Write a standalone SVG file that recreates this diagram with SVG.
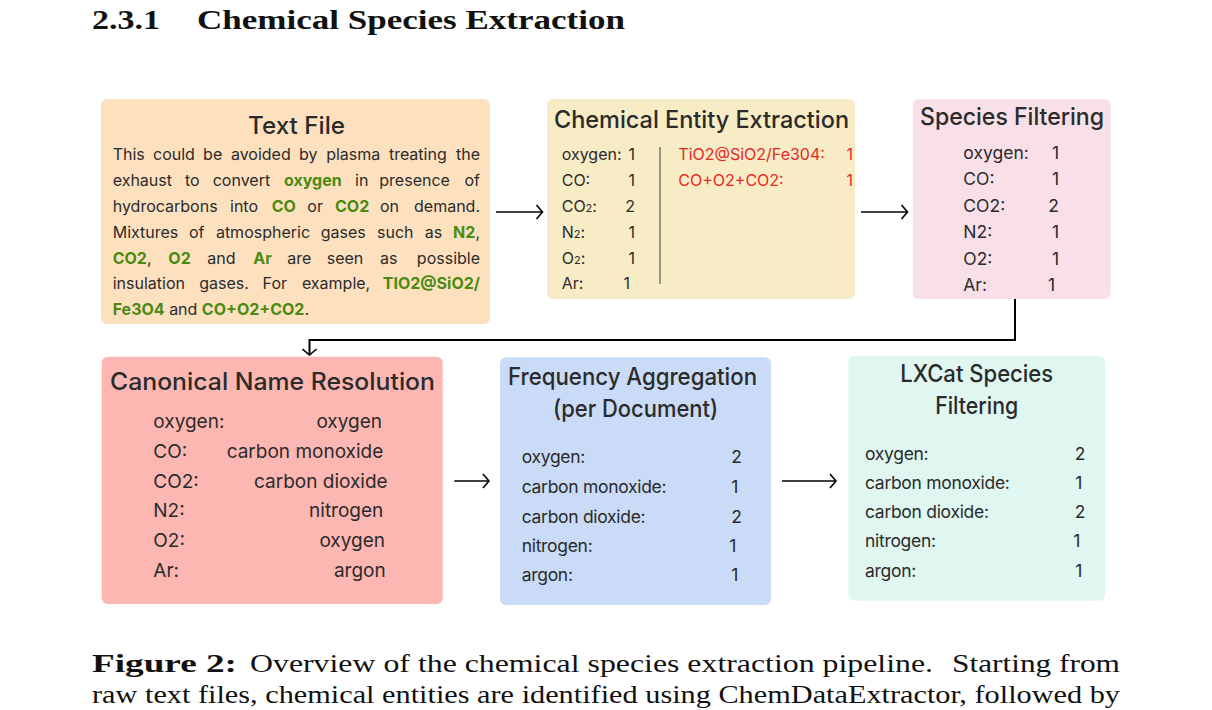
<svg xmlns="http://www.w3.org/2000/svg" width="1212" height="710" viewBox="0 0 1212 710">
<style>
.sans{font-family:Inter,"Liberation Sans",sans-serif;fill:#2b2b2b}
.ttl{font-size:24px;text-anchor:middle;font-weight:500}
.body{font-size:16px}
.g{fill:#4a8a12;font-weight:bold}
.r16{font-size:16px}
.r17{font-size:17.5px}
.r19{font-size:19px}
.red{fill:#e42a24}
.e{text-anchor:end}
.conn{stroke:#000;fill:none}
.serif{font-family:"Liberation Serif","Times New Roman",serif;fill:#111}
</style>
<defs>
<marker id="ah" viewBox="0 0 10 16" refX="9" refY="8" markerWidth="10" markerHeight="16" markerUnits="userSpaceOnUse" orient="auto">
<path d="M3,1 L9,8 L3,15" fill="none" stroke="#000" stroke-width="1.6"/>
</marker>
</defs>
<rect width="1212" height="710" fill="#fff"/>

<text class="serif" font-weight="bold" font-size="28" x="92" y="29" textLength="68" lengthAdjust="spacingAndGlyphs">2.3.1</text>
<text class="serif" font-weight="bold" font-size="28" x="197" y="29" textLength="428" lengthAdjust="spacingAndGlyphs">Chemical Species Extraction</text>

<g id="node-textfile">
<rect x="101" y="99" width="389" height="225" rx="6" fill="#fde1bf"/>
<text class="sans ttl" x="296.5" y="134" textLength="97" lengthAdjust="spacingAndGlyphs">Text File</text>
<text class="sans body" y="160"><tspan x="112.7">This</tspan><tspan x="153">could</tspan><tspan x="203.1">be</tspan><tspan x="230.9">avoided</tspan><tspan x="299">by</tspan><tspan x="326.2">plasma</tspan><tspan x="388.9">treating</tspan><tspan x="480" text-anchor="end">the</tspan></text>
<text class="sans body" y="186"><tspan x="112.7">exhaust</tspan><tspan x="185">to</tspan><tspan x="212.7">convert</tspan><tspan x="284" class="g">oxygen</tspan><tspan x="355">in</tspan><tspan x="379.3">presence</tspan><tspan x="480" text-anchor="end">of</tspan></text>
<text class="sans body" y="212"><tspan x="112.7">hydrocarbons</tspan><tspan x="230">into</tspan><tspan x="271.7" class="g">CO</tspan><tspan x="307.3">or</tspan><tspan x="335" class="g">CO2</tspan><tspan x="380">on</tspan><tspan x="480" text-anchor="end">demand.</tspan></text>
<text class="sans body" y="238"><tspan x="112.7">Mixtures</tspan><tspan x="188.9">of</tspan><tspan x="215.9">atmospheric</tspan><tspan x="320.7">gases</tspan><tspan x="377">such</tspan><tspan x="424.7">as</tspan><tspan x="480" text-anchor="end" class="g">N2</tspan><tspan>,</tspan></text>
<text class="sans body" y="263.5"><tspan x="112.7" class="g">CO2</tspan><tspan>,</tspan><tspan x="168.3" class="g">O2</tspan><tspan x="207.3">and</tspan><tspan x="253.3" class="g">Ar</tspan><tspan x="287.3">are</tspan><tspan x="326.7">seen</tspan><tspan x="380">as</tspan><tspan x="480" text-anchor="end">possible</tspan></text>
<text class="sans body" y="289"><tspan x="112.7">insulation</tspan><tspan x="199.2">gases.</tspan><tspan x="262.6">For</tspan><tspan x="301.9">example,</tspan><tspan x="480" text-anchor="end" class="g">TIO2@SiO2/</tspan></text>
<text class="sans body" x="112.7" y="314.5"><tspan class="g">Fe3O4</tspan> and <tspan class="g">CO+O2+CO2</tspan>.</text>
</g>

<g id="node-extraction">
<rect x="547" y="99" width="308" height="200" rx="6" fill="#f7ecc5"/>
<text class="sans ttl" x="701.5" y="128" textLength="295" lengthAdjust="spacingAndGlyphs">Chemical Entity Extraction</text>
<g class="sans r16">
<text x="561.7" y="160">oxygen:</text><text class="e" x="635" y="160">1</text>
<text x="561.7" y="186">CO:</text><text class="e" x="635" y="186">1</text>
<text x="561.7" y="212">CO<tspan font-size="11">2</tspan>:</text><text class="e" x="635" y="212">2</text>
<text x="561.7" y="238">N<tspan font-size="11">2</tspan>:</text><text class="e" x="635" y="238">1</text>
<text x="561.7" y="263.5">O<tspan font-size="11">2</tspan>:</text><text class="e" x="635" y="263.5">1</text>
<text x="561.7" y="288.5">Ar:</text><text class="e" x="630" y="288.5">1</text>
<text class="red" x="678.3" y="160">TiO2@SiO2/Fe304:</text><text class="red e" x="853" y="160">1</text>
<text class="red" x="678.3" y="186">CO+O2+CO2:</text><text class="red e" x="853" y="186">1</text>
</g>
<line x1="660" y1="147" x2="660" y2="284" stroke="#777" stroke-width="1.5"/>
</g>

<g id="node-filtering">
<rect x="912.7" y="99" width="198" height="200" rx="6" fill="#f8dfe8"/>
<text class="sans ttl" x="1012" y="125" textLength="184" lengthAdjust="spacingAndGlyphs">Species Filtering</text>
<g class="sans r17">
<text x="963.3" y="158.5">oxygen:</text><text class="e" x="1059" y="158.5">1</text>
<text x="963.3" y="185">CO:</text><text class="e" x="1059" y="185">1</text>
<text x="963.3" y="211.5">CO2:</text><text class="e" x="1059" y="211.5">2</text>
<text x="963.3" y="238">N2:</text><text class="e" x="1059" y="238">1</text>
<text x="963.3" y="264.5">O2:</text><text class="e" x="1059" y="264.5">1</text>
<text x="963.3" y="291">Ar:</text><text class="e" x="1055" y="291">1</text>
</g>
</g>

<g id="node-canonical">
<rect x="101.7" y="356.7" width="341" height="247.3" rx="6" fill="#fdb7b3"/>
<text class="sans ttl" x="272.5" y="390" textLength="325" lengthAdjust="spacingAndGlyphs">Canonical Name Resolution</text>
<g class="sans r19">
<text x="153.3" y="428.3">oxygen:</text><text class="e" x="382" y="428.3">oxygen</text>
<text x="153.3" y="458.3">CO:</text><text class="e" x="383.3" y="458.3">carbon monoxide</text>
<text x="153.3" y="487.7">CO2:</text><text class="e" x="387.7" y="487.7">carbon dioxide</text>
<text x="153.3" y="517.3">N2:</text><text class="e" x="383.3" y="517.3">nitrogen</text>
<text x="153.3" y="547">O2:</text><text class="e" x="385" y="547">oxygen</text>
<text x="153.3" y="576.7">Ar:</text><text class="e" x="385.7" y="576.7">argon</text>
</g>
</g>

<g id="node-frequency">
<rect x="500" y="357.3" width="271" height="247.7" rx="6" fill="#c9dbf6"/>
<text class="sans ttl" font-size="21" x="632.5" y="384.5" textLength="249" lengthAdjust="spacingAndGlyphs">Frequency Aggregation</text>
<text class="sans ttl" font-size="21" x="635.5" y="417" textLength="165" lengthAdjust="spacingAndGlyphs">(per Document)</text>
<g class="sans r17" letter-spacing="-0.3">
<text x="521.7" y="463.3">oxygen:</text><text class="e" x="741.7" y="463.3">2</text>
<text x="521.7" y="492.7">carbon monoxide:</text><text class="e" x="738" y="492.7">1</text>
<text x="521.7" y="522.7">carbon dioxide:</text><text class="e" x="741.7" y="522.7">2</text>
<text x="521.7" y="551.7">nitrogen:</text><text class="e" x="736" y="551.7">1</text>
<text x="521.7" y="581">argon:</text><text class="e" x="738" y="581">1</text>
</g>
</g>

<g id="node-lxcat">
<rect x="848.3" y="356" width="256.7" height="244.7" rx="6" fill="#e0f7f1"/>
<text class="sans ttl" font-size="21" x="976.7" y="382" textLength="153" lengthAdjust="spacingAndGlyphs">LXCat Species</text>
<text class="sans ttl" font-size="21" x="976.7" y="413.5" textLength="83" lengthAdjust="spacingAndGlyphs">Filtering</text>
<g class="sans r17" letter-spacing="-0.3">
<text x="865" y="460">oxygen:</text><text class="e" x="1085" y="460">2</text>
<text x="865" y="489.3">carbon monoxide:</text><text class="e" x="1082" y="489.3">1</text>
<text x="865" y="518.3">carbon dioxide:</text><text class="e" x="1085" y="518.3">2</text>
<text x="865" y="546.7">nitrogen:</text><text class="e" x="1080" y="546.7">1</text>
<text x="865" y="576.7">argon:</text><text class="e" x="1082" y="576.7">1</text>
</g>
</g>

<g id="connectors">
<line class="conn" x1="496" y1="212" x2="542.5" y2="212" stroke-width="1.6" marker-end="url(#ah)"/>
<line class="conn" x1="861" y1="212" x2="907.5" y2="212" stroke-width="1.6" marker-end="url(#ah)"/>
<polyline class="conn" points="1015,299 1015,340 309.5,340 309.5,355" stroke-width="2" marker-end="url(#ah)"/>
<line class="conn" x1="454.3" y1="481" x2="489" y2="481" stroke-width="1.6" marker-end="url(#ah)"/>
<line class="conn" x1="782" y1="481" x2="836" y2="481" stroke-width="1.6" marker-end="url(#ah)"/>
</g>

<text class="serif" font-size="25.5" font-weight="bold" x="92" y="672" textLength="145" lengthAdjust="spacingAndGlyphs">Figure 2:</text>
<text class="serif" font-size="25.5" x="250" y="672" textLength="683" lengthAdjust="spacingAndGlyphs">Overview of the chemical species extraction pipeline.</text>
<text class="serif" font-size="25.5" x="952" y="672" textLength="168" lengthAdjust="spacingAndGlyphs">Starting from</text>
<text class="serif" font-size="25.5" x="92" y="703" textLength="1028" lengthAdjust="spacingAndGlyphs">raw text files, chemical entities are identified using ChemDataExtractor, followed by</text>
</svg>
